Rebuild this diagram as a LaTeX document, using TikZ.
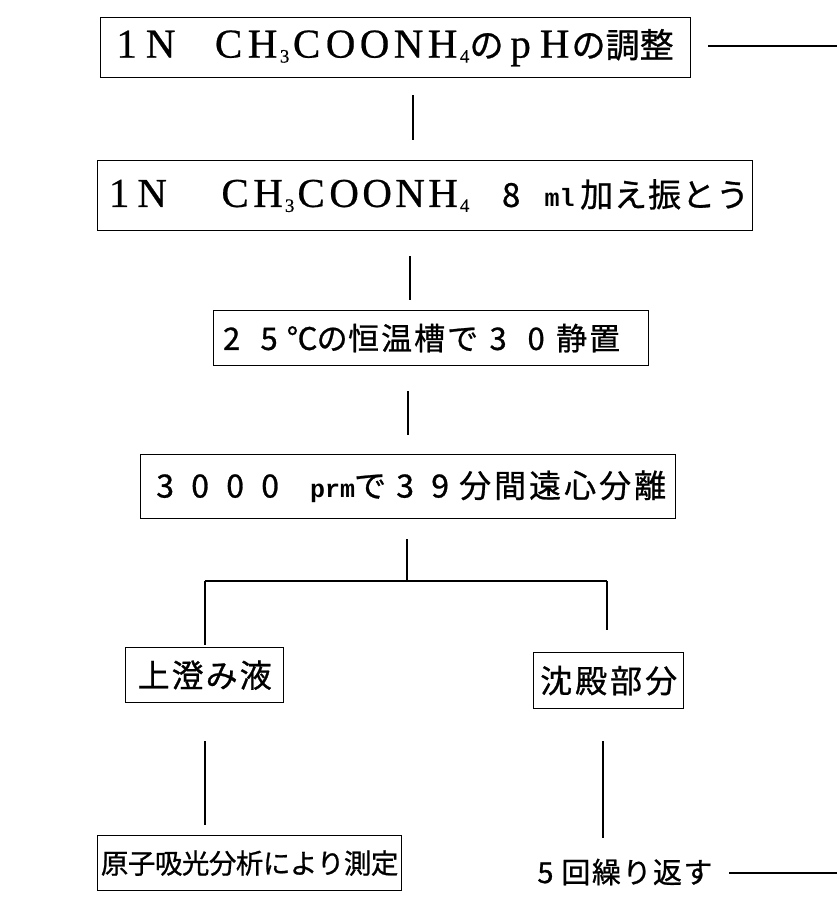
\documentclass[tikz,border=0pt]{standalone}
\usepackage{fontspec}
\setmainfont{Noto Sans CJK JP}[FakeBold=0.8]
\newfontfamily\lat{Liberation Serif}[FakeBold=0.5]
\newfontfamily\mono{Liberation Mono}
\usetikzlibrary{calc}
\newlength\pw
\newcommand\lt[1]{\makebox[\pw][c]{\lat\fontsize{41}{41}\selectfont #1}}
\newcommand\jc[1]{\makebox[\pw][c]{#1}}
\newcommand\cw[2]{\makebox[#1pt][c]{#2}}
\newcommand\sbs[1]{\makebox[10pt][c]{\raisebox{-5pt}{\lat\fontsize{19}{19}\selectfont #1}}}
\tikzset{
  box/.style={draw, line width=1.3pt, inner sep=0pt, anchor=north west},
  conn/.style={line width=1.4pt}
}
\begin{document}
\begin{tikzpicture}[x=1pt,y=-1pt]
\useasboundingbox (0,0) rectangle (837,899);
% boxes
\node[box, minimum width=590pt, minimum height=60pt] (b1) at (100,17)
 {\fontsize{34}{34}\selectfont\setlength\pw{34pt}\makebox[590pt][l]{\hspace{9pt}\lt{1}\lt{N}\jc{}\lt{C}\lt{H}\sbs{3}\lt{C}\lt{O}\lt{O}\lt{N}\lt{H}\sbs{4}\jc{の}\lt{p}\lt{H}\jc{の}\jc{調}\jc{整}}};
\node[box, minimum width=655pt, minimum height=70pt] (b2) at (97,160)
 {\fontsize{33}{33}\selectfont\setlength\pw{33pt}\makebox[655pt][l]{\hspace{5pt}\lt{1}\lt{N}\hspace{50pt}\lt{C}\lt{H}\sbs{3}\lt{C}\lt{O}\lt{O}\lt{N}\lt{H}\sbs{4}\hspace{25pt}\jc{8}\hspace{12pt}\makebox[40pt]{\mono\bfseries\fontsize{25}{25}\selectfont ml}\setlength\pw{34pt}\jc{加}\jc{え}\jc{振}\jc{と}\jc{う}}};
\node[box, minimum width=435pt, minimum height=55pt] (b3) at (213,310)
 {\fontsize{31}{31}\selectfont\makebox[435pt][l]{\hspace{-1.5pt}\cw{39}{2}\cw{36}{5}\cw{30}{℃}\cw{30}{の}\cw{33}{恒}\cw{33}{温}\cw{33}{槽}\cw{33}{で}\cw{38}{3}\cw{38}{0}\cw{33}{静}\cw{33}{置}}};
\node[box, minimum width=535pt, minimum height=64pt] (b4) at (140,454)
 {\fontsize{32}{32}\selectfont\setlength\pw{35pt}\makebox[535pt][l]{\hspace{7pt}\jc{3}\jc{0}\jc{0}\jc{0}\hspace{25pt}\makebox[40pt]{\mono\bfseries\fontsize{25}{25}\selectfont prm}\jc{で}\jc{3}\jc{9}\jc{分}\jc{間}\jc{遠}\jc{心}\jc{分}\jc{離}}};
\node[box, minimum width=158pt, minimum height=55pt] (b5) at (125,647)
 {\fontsize{32}{32}\selectfont\setlength\pw{34pt}\makebox[158pt][c]{\jc{上}\jc{澄}\jc{み}\jc{液}}};
\node[box, minimum width=150pt, minimum height=56pt] (b6) at (533,652)
 {\fontsize{32}{32}\selectfont\setlength\pw{35pt}\makebox[150pt][c]{\jc{沈}\jc{殿}\jc{部}\jc{分}}};
\node[box, minimum width=304pt, minimum height=55pt] (b7) at (97,835)
 {\fontsize{27.5}{27.5}\selectfont\setlength\pw{27pt}\makebox[304pt][c]{\jc{原}\jc{子}\jc{吸}\jc{光}\jc{分}\jc{析}\jc{に}\jc{よ}\jc{り}\jc{測}\jc{定}}};
\node[inner sep=0pt, anchor=west] (rep) at (530,872)
 {\fontsize{29}{29}\selectfont\setlength\pw{30.5pt}\jc{5}\jc{回}\jc{繰}\jc{り}\jc{返}\jc{す}};
% column coordinates
\coordinate (x1) at (413,0);
\coordinate (x2) at (410,0);
\coordinate (x3) at (408,0);
\coordinate (x4) at (407,0);
\coordinate (xl) at (205,0);
\coordinate (xr) at (607,0);
\coordinate (xr2) at (603,0);
\coordinate (j) at (407,581);
\coordinate (jl) at (205,581);
\coordinate (jr) at (607,581);
\coordinate (e1) at (837,46);
\coordinate (e2) at (837,873);
% connectors
\draw[conn, shorten <=17pt, shorten >=20pt] (b1.south -| x1) -- (b2.north -| x1);
\draw[conn, shorten <=25pt, shorten >=10pt] (b2.south -| x2) -- (b3.north -| x2);
\draw[conn, shorten <=25pt, shorten >=19pt] (b3.south -| x3) -- (b4.north -| x3);
\draw[conn, shorten <=20pt] (b4.south -| x4) -- (j);
\draw[conn] (jl) -- (jr);
\draw[conn, shorten >=2pt] (jl) -- (b5.north -| xl);
\draw[conn, shorten >=22pt] (jr) -- (b6.north -| xr);
\draw[conn, shorten <=38pt, shorten >=10pt] (b5.south -| xl) -- (b7.north -| xl);
\draw[conn, shorten <=32pt, shorten >=20pt] (b6.south -| xr2) -- (rep.north -| xr2);
\draw[conn, shorten <=17pt] (b1.east |- e1) -- (e1);
\draw[conn, shorten <=16pt] (rep.east |- e2) -- (e2);
\end{tikzpicture}
\end{document}
